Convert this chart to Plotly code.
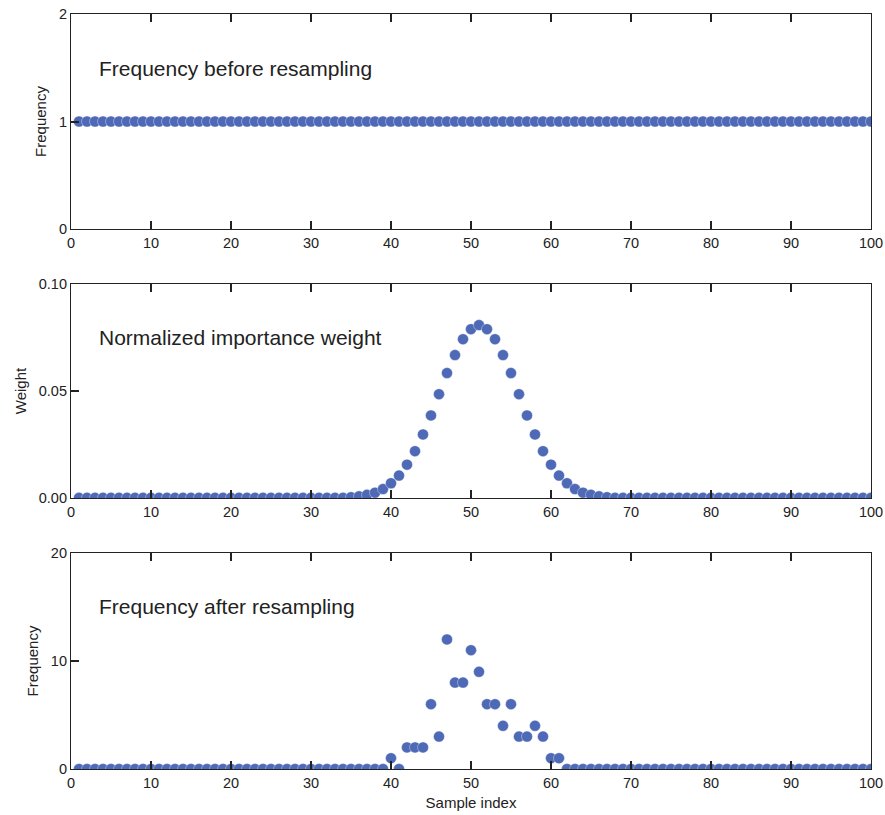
import plotly.graph_objects as go
from plotly.subplots import make_subplots

sample_index = list(range(1, 101))

freq_before = [1] * 100

weight_x = list(range(1, 101))
weight_vals = (
    [0.0001] * 34 +
    [0.0004, 0.0008, 0.0015, 0.0025, 0.0042, 0.0069, 0.0105, 0.0156, 0.0219,
     0.0297, 0.0386, 0.0485, 0.0584, 0.0668, 0.0742, 0.0789, 0.0808, 0.0789,
     0.0742, 0.0668, 0.0584, 0.0485, 0.0386, 0.0297, 0.0219, 0.0156, 0.0105,
     0.0069, 0.0042, 0.0025, 0.0015, 0.0008, 0.0004] +
    [0.0001] * 33
)

freq_after = (
    [0] * 39 +
    [1, 0, 2, 2, 2, 6, 3, 12, 8, 8, 11, 9, 6, 6, 4, 6, 3, 3, 4, 3, 1, 1] +
    [0] * 39
)

panel_titles = ["Frequency before resampling", "Normalized importance weight",
                "Frequency after resampling"]
y_titles = ["Frequency", "Weight", "Frequency"]
y_ranges = [[0, 2], [0, 0.1], [0, 20]]
y_ticks = [[0, 1, 2], [0, 0.05, 0.10], [0, 10, 20]]
y_tickfmt = [None, ".2f", None]
label_y = [1.49, 0.0748, 15.0]
x_ticks = [0, 10, 20, 30, 40, 50, 60, 70, 80, 90, 100]

series = [freq_before, weight_vals, freq_after]
xs = [sample_index, weight_x, sample_index]

color = "#4E6AB6"
ink = "#222222"
font_family = "Liberation Sans, Arial, Helvetica, sans-serif"

fig = make_subplots(rows=3, cols=1)

domains = [[0.7152, 1.0], [0.3589, 0.6424], [0.0, 0.2861]]

for i in range(3):
    r = i + 1
    fig.add_trace(go.Scatter(
        x=xs[i], y=series[i], mode="markers",
        marker=dict(size=11, color=color, line=dict(width=0.6, color="rgba(255,255,255,0.6)")),
        showlegend=False, hoverinfo="x+y"),
        row=r, col=1)
    fig.update_xaxes(
        range=[0, 100], tickvals=x_ticks, ticks="inside", ticklen=8, tickwidth=1.5,
        tickcolor=ink, showline=True, linecolor=ink, linewidth=1.2, mirror="ticks",
        showgrid=False, zeroline=False, tickfont=dict(size=14.5, color=ink, family=font_family),
        domain=[0, 1], row=r, col=1)
    yargs = dict(
        range=y_ranges[i], tickvals=y_ticks[i], ticks="inside", ticklen=8, tickwidth=1.5,
        tickcolor=ink, showline=True, linecolor=ink, linewidth=1.2, mirror=True,
        showgrid=False, zeroline=False, tickfont=dict(size=14.5, color=ink, family=font_family),
        title=dict(text=y_titles[i], font=dict(size=15, color=ink, family=font_family), standoff=8),
        domain=domains[i])
    if y_tickfmt[i]:
        yargs["tickformat"] = y_tickfmt[i]
    fig.update_yaxes(row=r, col=1, **yargs)

fig.update_xaxes(title=dict(text="Sample index", font=dict(size=15, color=ink, family=font_family), standoff=7), row=3, col=1)

anns = []
for i in range(3):
    xref = "x" if i == 0 else f"x{i+1}"
    yref = "y" if i == 0 else f"y{i+1}"
    anns.append(dict(x=3.2, y=label_y[i], xref=xref, yref=yref, text=panel_titles[i],
                     showarrow=False, xanchor="left", yanchor="middle",
                     font=dict(size=21, color=ink, family=font_family)))
fig.update_layout(annotations=anns)

fig.update_layout(
    width=885, height=815,
    margin=dict(l=71, r=14, t=14, b=46, autoexpand=False),
    paper_bgcolor="white", plot_bgcolor="white",
    font=dict(family=font_family, color=ink),
)

fig.write_html("out.html")
